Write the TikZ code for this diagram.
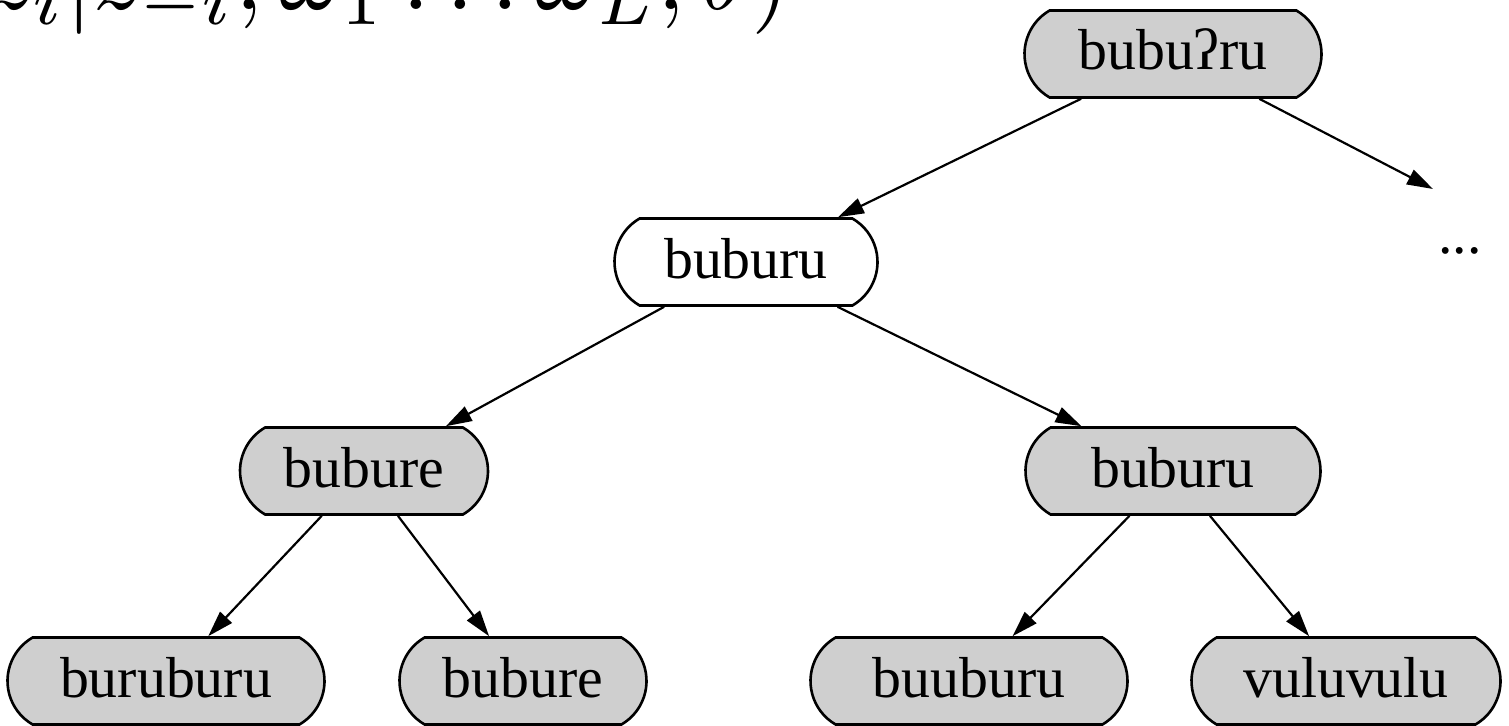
\documentclass[tikz,border=0pt]{standalone}
\usepackage{graphicx}
\usepackage[no-math]{fontspec}
\setmainfont{Liberation Serif}
\usetikzlibrary{shapes.misc,arrows.meta}
\definecolor{nodegray}{RGB}{207,207,207}
\begin{document}
\begin{tikzpicture}[x=1bp,y=-1bp,
  word/.style={rounded rectangle, rounded rectangle arc length=120,
    draw=black, line width=2.6bp, minimum height=87bp, inner xsep=0pt,
    font=\fontsize{58}{64}\selectfont, text height=40bp, text depth=8bp},
  shaded/.style={word, fill=nodegray},
  plain/.style={word, fill=white},
  link/.style={-{Triangle[length=26bp,width=16bp]}, line width=2.2bp},
]
\useasboundingbox (0,0) rectangle (1509,726);
\begin{scope}
\clip (0,0) rectangle (1509,726);
% conditional distribution, partly outside the frame
\node[anchor=base east, inner sep=0pt]
  (cond) at (790,10) {\scalebox{10}{$z_i|z_{-i}, \omega_1 \ldots \omega_L, \theta)$}};

% tree of word forms
\node[shaded, minimum width=297bp] (root) at (1173,54) {bubuʔru};
\node[plain,  minimum width=263bp] (mid)  at (746,262) {buburu};
\node[shaded, minimum width=248bp] (left) at (364,471) {bubure};
\node[shaded, minimum width=295bp] (right) at (1173,471) {buburu};
\node[shaded, minimum width=317bp] (ll) at (166,681) {buruburu};
\node[shaded, minimum width=247bp] (lr) at (523,681) {bubure};
\node[shaded, minimum width=317bp] (rl) at (969,681) {buuburu};
\node[shaded, minimum width=309bp] (rr) at (1346,681) {vuluvulu};

\node[anchor=base, inner sep=0pt, font=\fontsize{58}{64}\selectfont] (more) at (1460,253) {...};
\coordinate (moreend) at (1433,189);

\draw[link] (root) -- (mid);
\draw[link] (root) -- (moreend);
\draw[link] (mid) -- (left);
\draw[link] (mid) -- (right);
\draw[link] (left) -- (ll);
\draw[link] (left) -- (lr);
\draw[link] (right) -- (rl);
\draw[link] (right) -- (rr);
\end{scope}
\end{tikzpicture}
\end{document}
